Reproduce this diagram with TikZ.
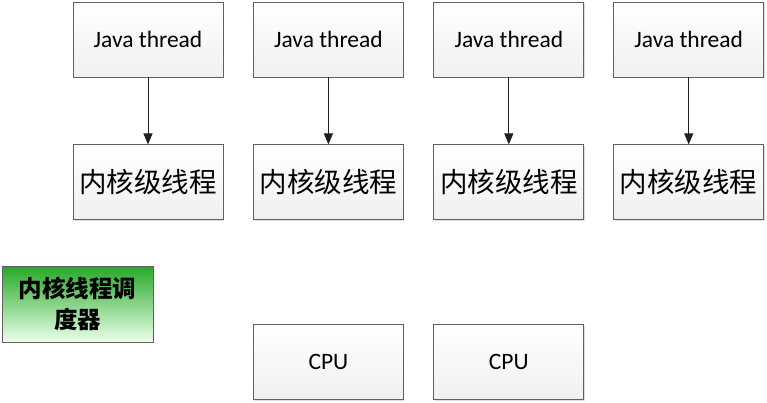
\documentclass[tikz,border=0pt]{standalone}
\usepackage{fontspec}
\setmainfont{Carlito}
\newfontfamily\cjk{Noto Sans CJK SC}
\usetikzlibrary{positioning,shadows,arrows.meta}

\begin{document}
\begin{tikzpicture}[x=1pt, y=-1pt, node distance=29.5pt,
    every node/.style={inner sep=0pt},
    box/.style={draw=gray!75!black, line width=0.9pt, minimum width=150pt, minimum height=75pt,
        top color=white, bottom color=gray!12,
        drop shadow={shadow xshift=1pt, shadow yshift=-1pt, opacity=0.25}},
    jbox/.style={box, font=\fontsize{23.5}{26}\selectfont},
    kbox/.style={box, font=\cjk\fontsize{27.5}{30}\selectfont}]

    \useasboundingbox (0,0) rectangle (767,403);

    % Java threads
    \node[jbox] (java1) at (148,39.5) {Java thread};
    \node[jbox, right=of java1] (java2) {Java thread};
    \node[jbox, right=of java2] (java3) {Java thread};
    \node[jbox, right=29pt of java3] (java4) {Java thread};

    % kernel threads
    \foreach \i in {1,...,4} {
        \node[kbox, below=67pt of java\i] (kern\i) {内核级线程};
        \draw[-{Triangle[length=11pt,width=9pt]}, line width=1pt, gray!25!black]
            (java\i) -- (kern\i);
    }

    % scheduler
    \node[box, minimum width=151pt, minimum height=76pt, top color=green!60!black!85,
        bottom color=green!8, font=\cjk\bfseries\fontsize{23.5}{31}\selectfont,
        align=center] (sched) at (77.5,304) {内核线程调\\度器};

    % CPUs
    \node[jbox, below=104pt of kern2] (cpu1) {CPU};
    \node[jbox, below=104pt of kern3] (cpu2) {CPU};

\end{tikzpicture}
\end{document}
